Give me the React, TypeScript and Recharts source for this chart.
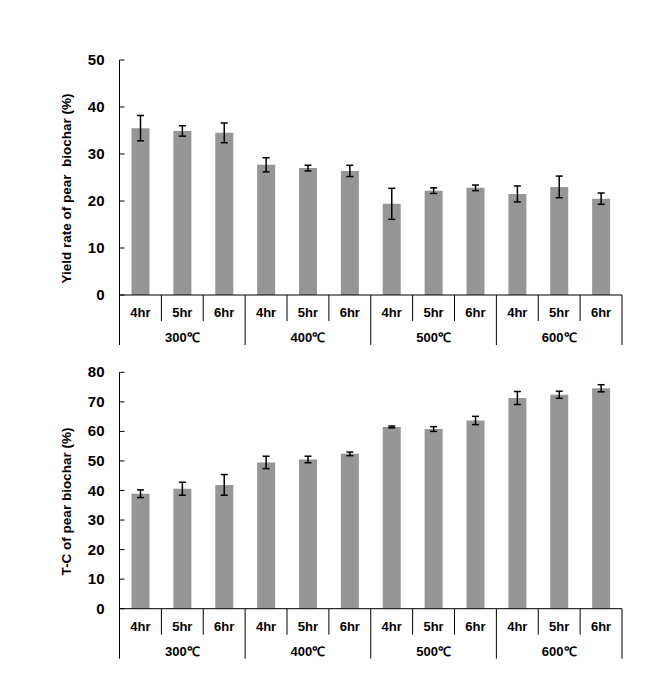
import React from 'react';
import { BarChart, Bar, XAxis, YAxis, ErrorBar } from 'recharts';

const hours = ['4hr', '5hr', '6hr', '4hr', '5hr', '6hr', '4hr', '5hr', '6hr', '4hr', '5hr', '6hr'];
const temps = ['300℃', '300℃', '300℃', '400℃', '400℃', '400℃', '500℃', '500℃', '500℃', '600℃', '600℃', '600℃'];

const yieldRate = [35.5, 34.9, 34.5, 27.7, 27.0, 26.4, 19.4, 22.2, 22.8, 21.5, 23.0, 20.5];
const yieldErr = [2.7, 1.1, 2.1, 1.5, 0.6, 1.2, 3.3, 0.6, 0.6, 1.7, 2.3, 1.2];

const totalCarbon = [38.9, 40.6, 41.9, 49.5, 50.5, 52.4, 61.5, 60.8, 63.7, 71.3, 72.4, 74.6];
const totalCarbonErr = [1.3, 2.2, 3.5, 2.1, 1.1, 0.6, 0.3, 0.8, 1.4, 2.2, 1.2, 1.2];

const yieldTicks = [0, 10, 20, 30, 40, 50];
const carbonTicks = [0, 10, 20, 30, 40, 50, 60, 70, 80];

const FONT = '"Liberation Sans", Arial, sans-serif';
const BAR = '#969696';

const yieldData = hours.map((h, i) => ({ id: `${temps[i]}-${h}`, value: yieldRate[i], err: yieldErr[i] }));
const carbonData = hours.map((h, i) => ({ id: `${temps[i]}-${h}`, value: totalCarbon[i], err: totalCarbonErr[i] }));

function XTick(props: any) {
  const { x, y, payload, width, visibleTicksCount } = props;
  const i = payload?.index ?? props.index ?? 0;
  const band = width && visibleTicksCount ? width / visibleTicksCount : 42;
  const groupEnd = i % 3 === 2;
  return (
    <g>
      <text x={x} y={y + 22} textAnchor="middle" fontFamily={FONT} fontSize={13} fontWeight="bold" fill="#000">
        {hours[i]}
      </text>
      {i === 0 && <line x1={x - band / 2} x2={x - band / 2} y1={y} y2={y + 50} stroke="#000" />}
      <line x1={x + band / 2} x2={x + band / 2} y1={y} y2={y + (groupEnd ? 50 : 26)} stroke="#000" />
      {i % 3 === 1 && (
        <text x={x} y={y + 47} textAnchor="middle" fontFamily={FONT} fontSize={13} fontWeight="bold" fill="#000">
          {temps[i]}
        </text>
      )}
    </g>
  );
}

function YTick(props: any) {
  const { x, y, payload } = props;
  return (
    <g>
      <text x={x - 15} y={y} dy={5} textAnchor="end" fontFamily={FONT} fontSize={15} fontWeight="bold" fill="#000">
        {payload.value}
      </text>
      <line x1={x} x2={x + 5} y1={y} y2={y} stroke="#000" />
    </g>
  );
}

function axisTitle(text: string) {
  return (props: any) => {
    const vb = props.viewBox || {};
    const cx = vb.x + 7;
    const cy = vb.y + vb.height / 2 + 11;
    return (
      <text
        x={cx}
        y={cy}
        transform={`rotate(-90, ${cx}, ${cy})`}
        textAnchor="middle"
        dominantBaseline="central"
        fontFamily={FONT}
        fontSize={13.5}
        fontWeight="bold"
        fill="#000"
        style={{ whiteSpace: 'pre' }}
      >
        {text}
      </text>
    );
  };
}

function Panel({ data, ticks, max, title, height, margin }: any) {
  return (
    <BarChart width={658} height={height} data={data} margin={margin}>
      <XAxis
        dataKey="id"
        axisLine={{ stroke: '#000' }}
        tickLine={false}
        tickSize={0}
        tickMargin={0}
        height={60}
        interval={0}
        tick={(p: any) => <XTick {...p} />}
      />
      <YAxis
        domain={[0, max]}
        ticks={ticks}
        allowDataOverflow
        axisLine={{ stroke: '#000' }}
        tickLine={false}
        tickSize={0}
        tickMargin={0}
        width={60}
        tick={(p: any) => <YTick {...p} />}
        label={axisTitle(title)}
      />
      <Bar dataKey="value" fill={BAR} barSize={18} isAnimationActive={false}>
        <ErrorBar dataKey="err" width={3.5} stroke="#000" strokeWidth={1.5} isAnimationActive={false} />
      </Bar>
    </BarChart>
  );
}

export default function App() {
  return (
    <div style={{ position: 'absolute', left: 0, top: 0, width: 658, height: 688, background: '#fff' }}>
      <div style={{ position: 'absolute', left: 0, top: 0 }}>
        <Panel
          data={yieldData}
          ticks={yieldTicks}
          max={50}
          title={'Yield rate of pear  biochar (%)'}
          height={360}
          margin={{ top: 60, right: 36, left: 59.5, bottom: 5 }}
        />
      </div>
      <div style={{ position: 'absolute', left: 0, top: 360 }}>
        <Panel
          data={carbonData}
          ticks={carbonTicks}
          max={80}
          title={'T-C of pear biochar (%)'}
          height={328}
          margin={{ top: 12.3, right: 36, left: 59.5, bottom: 19.3 }}
        />
      </div>
    </div>
  );
}
